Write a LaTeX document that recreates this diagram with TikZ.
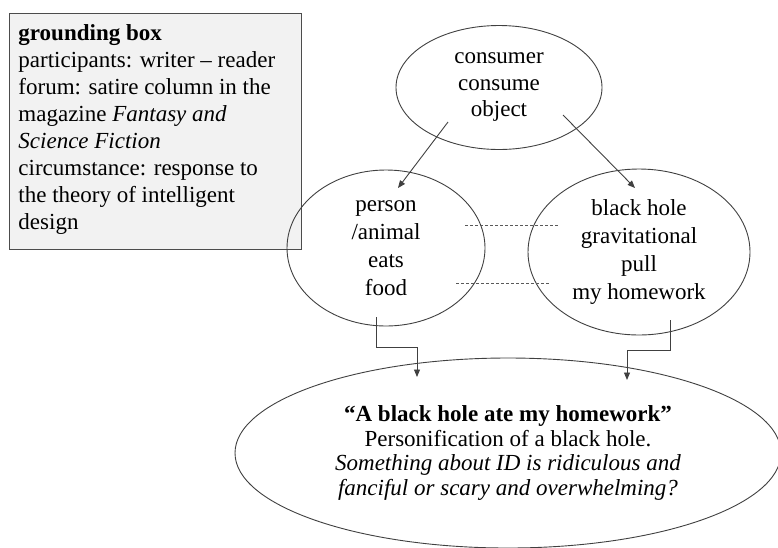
\documentclass[tikz,border=0pt]{standalone}
\usepackage{fontspec}
\setmainfont{Liberation Serif}
\usetikzlibrary{calc, shapes.geometric, arrows.meta}

\begin{document}
\begin{tikzpicture}[x=1pt, y=-1pt,
		bubble/.style={ellipse, draw=black!75, line width=0.9pt, inner sep=0pt, align=center},
		conn/.style={draw=black!75, line width=0.9pt, -{Triangle[length=7.5pt, width=6pt]}},
		link/.style={draw=black!65, line width=0.8pt, dash pattern=on 3pt off 2pt}]
		
		%page
		\useasboundingbox (0,0) rectangle (778,547);
		
		%grounding box
		\node [draw=black!70, fill=black!5, line width=0.9pt, anchor=north west, inner xsep=9pt, inner ysep=11pt] (ground) at (9,13)
		{\parbox[t][214pt][t]{274pt}{\fontsize{23}{27}\selectfont\raggedright
			\textbf{grounding box}\\
			participants: writer – reader\\
			forum: satire column in the\\
			magazine \textit{Fantasy and}\\
			\textit{Science Fiction}\\
			circumstance: response to\\
			the theory of intelligent\\
			design}};
		
		%input spaces
		\node [bubble, minimum width=206pt, minimum height=124pt, font=\fontsize{23}{26.5}\selectfont] (consume) at (499,87.5) {consumer\\consume\\object};
		\node [bubble, minimum width=198pt, minimum height=156pt, font=\fontsize{23}{28}\selectfont] (eats) at (386,248) {person\\/animal\\eats\\food};
		\node [bubble, minimum width=222pt, minimum height=166pt, font=\fontsize{23}{27.7}\selectfont] (pull) at (639,252) {black hole\\gravitational\\pull\\my homework};
		
		%blend
		\node [bubble, minimum width=546pt, minimum height=190pt, font=\fontsize{23}{24.5}\selectfont] (ate) at (508,453)
		{\textbf{“A black hole ate my homework”}\\
			Personification of a black hole.\\
			\textit{Something about ID is ridiculous and}\\
			\textit{fanciful or scary and overwhelming?}};
		
		%generic space to inputs
		\draw [conn] ($ (consume.center) + (-51,34.5) $) -- ($ (eats.center) + (12,-60) $);
		\draw [conn] ($ (consume.center) + (64,27.5) $) -- ($ (pull.center) + (-4,-64) $);
		
		%cross-space mapping
		\draw [link] ($ (eats.center) + (79,-23) $) -- ($ (pull.center) + (-81,-27) $);
		\draw [link] ($ (eats.center) + (70,35) $) -- ($ (pull.center) + (-89,31) $);
		
		%projection into the blend
		\draw [conn] ($ (eats.center) + (-10,69) $) -- ++(0,30) -| ($ (ate.center) + (-91,-76) $);
		\draw [conn] ($ (pull.center) + (31,68) $) -- ++(0,30) -| ($ (ate.center) + (119,-73) $);
	\end{tikzpicture}
\end{document}
